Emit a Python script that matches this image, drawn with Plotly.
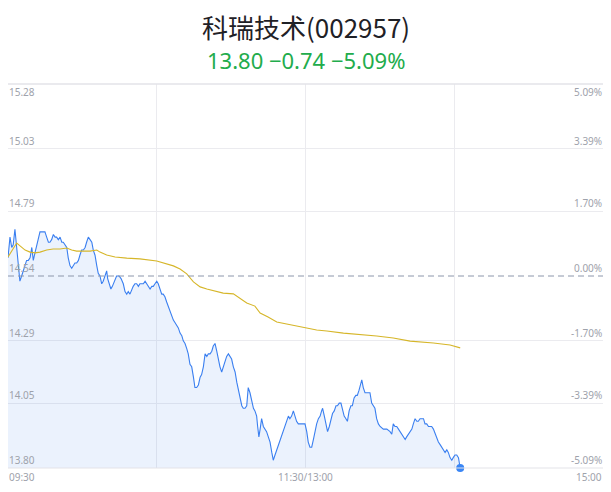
import plotly.graph_objects as go

title_text = "科瑞技术(002957)"
quote_text = "13.80 −0.74 −5.09%"

prev_close = 14.54
price_ticks = [15.28, 15.03, 14.79, 14.54, 14.29, 14.05, 13.80]
price_tick_labels = ["15.28", "15.03", "14.79", "14.54", "14.29", "14.05", "13.80"]
pct_tick_labels = ["5.09%", "3.39%", "1.70%", "0.00%", "-1.70%", "-3.39%", "-5.09%"]
time_tick_vals = [0, 120, 240]
time_tick_labels = ["09:30", "11:30/13:00", "15:00"]
grid_minutes = [60, 120, 180]

# minutes since open (lunch break removed) and prices
minutes = [0, 0.8, 1.5, 2.1, 2.8, 3.5, 4.2, 4.8, 5.5, 6.2, 6.9, 7.5, 8.2, 8.9, 9.6, 10.0, 10.2, 10.9,
           11.6, 12.2, 12.9, 13.6, 14.2, 14.9, 15.6, 16.3, 16.9, 17.6, 18.3, 19.0, 19.6, 20.3, 21.0,
           21.7, 22.3, 23.0, 23.7, 24.3, 25.0, 25.7, 26.3, 27.0, 27.7, 28.4, 29.0, 29.7, 30.4, 31.1,
           31.7, 32.4, 33.1, 33.8, 34.4, 35.1, 35.8, 36.4, 37.1, 37.8, 38.4, 39.1, 39.8, 40.2, 40.7,
           41.5, 42.1, 42.9, 43.8, 44.8, 45.6, 46.5, 47.2, 47.9, 48.5, 49.2, 49.9, 50.5, 51.2, 51.9,
           52.6, 53.2, 53.9, 54.6, 55.3, 56.0, 56.6, 57.3, 58.0, 58.6, 59.3, 60.0, 60.6, 61.3, 62.0,
           62.6, 63.3, 64.0, 64.7, 65.4, 66.0, 66.7, 67.4, 68.1, 68.7, 69.4, 70.1, 70.7, 71.4, 72.1,
           72.7, 73.4, 74.1, 74.8, 75.4, 76.1, 76.8, 77.5, 78.1, 78.8, 79.5, 80.2, 80.8, 81.5, 82.2,
           82.8, 83.5, 84.2, 84.8, 85.5, 86.2, 86.8, 87.5, 88.2, 88.9, 89.6, 90.2, 90.9, 91.6, 92.3,
           92.9, 93.6, 94.3, 94.9, 95.6, 96.3, 96.9, 97.6, 98.3, 99.0, 99.6, 100.3, 100.7, 101.2,
           101.7, 102.3, 103.0, 103.7, 104.3, 105.0, 105.7, 106.4, 107.0, 107.7, 108.4, 109.0, 109.7,
           110.4, 111.1, 111.7, 112.4, 113.1, 113.7, 114.4, 115.1, 115.8, 116.4, 117.1, 117.8, 118.5,
           119.1, 119.8, 120.5, 121.1, 121.8, 122.5, 123.2, 123.8, 124.5, 125.2, 125.9, 126.5, 126.9,
           127.6, 128.3, 128.9, 129.6, 130.3, 130.9, 131.6, 132.3, 132.9, 133.6, 134.3, 134.9, 135.6,
           136.3, 136.9, 137.6, 138.3, 138.9, 139.6, 140.3, 140.9, 141.6, 142.3, 142.7, 143.3, 144.0,
           144.7, 145.4, 146.0, 146.7, 147.4, 148.0, 148.7, 149.4, 150.1, 151.4, 152.8, 154.1, 154.8,
           155.4, 156.1, 156.8, 157.5, 158.1, 158.8, 159.5, 160.2, 160.8, 161.5, 162.2, 162.9, 163.5,
           164.2, 164.9, 165.5, 166.2, 166.9, 167.6, 168.2, 168.9, 169.6, 170.2, 170.9, 171.6, 172.3,
           172.9, 173.6, 174.3, 174.9, 175.6, 176.3, 177.0, 177.6, 178.3, 179.0, 179.6, 180.3, 181.0,
           181.7, 182.4]
prices = [14.61, 14.69, 14.65, 14.66, 14.72, 14.65, 14.57, 14.52, 14.54, 14.56, 14.58, 14.60, 14.60,
          14.61, 14.65, 14.61, 14.60, 14.63, 14.66, 14.69, 14.71, 14.71, 14.71, 14.71, 14.69, 14.67,
          14.67, 14.68, 14.70, 14.69, 14.69, 14.68, 14.69, 14.67, 14.67, 14.66, 14.65, 14.61, 14.58,
          14.57, 14.58, 14.59, 14.59, 14.60, 14.62, 14.64, 14.64, 14.65, 14.67, 14.69, 14.68, 14.67,
          14.64, 14.62, 14.58, 14.55, 14.54, 14.51, 14.52, 14.54, 14.56, 14.53, 14.51, 14.49, 14.50,
          14.52, 14.54, 14.54, 14.53, 14.51, 14.48, 14.47, 14.48, 14.47, 14.49, 14.50, 14.51, 14.51,
          14.50, 14.51, 14.51, 14.51, 14.52, 14.51, 14.50, 14.49, 14.50, 14.50, 14.51, 14.52, 14.51,
          14.49, 14.47, 14.47, 14.46, 14.44, 14.42, 14.40, 14.39, 14.37, 14.36, 14.35, 14.34, 14.32,
          14.31, 14.29, 14.28, 14.26, 14.24, 14.20, 14.19, 14.15, 14.11, 14.11, 14.12, 14.15, 14.16,
          14.19, 14.24, 14.23, 14.24, 14.24, 14.25, 14.27, 14.28, 14.25, 14.22, 14.19, 14.17, 14.19,
          14.21, 14.23, 14.24, 14.23, 14.22, 14.19, 14.17, 14.13, 14.10, 14.06, 14.04, 14.03, 14.03,
          14.04, 14.11, 14.09, 14.06, 14.03, 14.02, 14.00, 13.96, 13.92, 13.95, 13.99, 13.96, 13.95,
          13.94, 13.92, 13.90, 13.86, 13.83, 13.85, 13.87, 13.88, 13.90, 13.92, 13.94, 13.96, 13.98,
          14.00, 13.99, 14.00, 14.02, 14.00, 13.98, 13.97, 13.97, 13.97, 13.97, 13.97, 13.94, 13.90,
          13.88, 13.88, 13.91, 13.94, 13.97, 13.99, 14.00, 14.02, 14.03, 14.00, 13.97, 13.94, 13.96,
          13.99, 14.01, 14.02, 14.04, 14.04, 14.05, 14.05, 14.03, 14.00, 13.99, 13.98, 14.02, 14.04,
          14.04, 14.07, 14.08, 14.08, 14.10, 14.12, 14.14, 14.11, 14.09, 14.09, 14.09, 14.09, 14.05,
          14.04, 14.03, 13.99, 13.97, 13.96, 13.95, 13.95, 13.94, 13.93, 13.97, 13.96, 13.96, 13.95,
          13.94, 13.93, 13.92, 13.91, 13.92, 13.93, 13.94, 13.95, 13.97, 13.99, 13.98, 13.98, 13.99,
          13.99, 13.99, 13.97, 13.97, 13.96, 13.96, 13.96, 13.95, 13.93, 13.92, 13.90, 13.89, 13.88,
          13.87, 13.86, 13.87, 13.86, 13.84, 13.83, 13.84, 13.85, 13.85, 13.84, 13.80]

avg_minutes = [0, 3.5, 6.9, 8.9, 10.9, 12.9, 15.6, 18.2, 21.0, 23.7, 25.7, 27.7, 30.3, 33.1, 35.8,
               37.1, 39.8, 43.2, 47.9, 53.2, 60.0, 62.6, 66.7, 69.4, 72.1, 74.8, 77.5, 80.2, 84.2,
               86.8, 90.9, 93.6, 96.3, 99.6, 101.7, 104.9, 108.4, 112.4, 116.4, 119.8, 124.5, 128.6,
               135.3, 148.7, 155.4, 162.2, 171.6, 178.3, 182.4]
avg_prices = [14.613, 14.667, 14.640, 14.632, 14.629, 14.632, 14.640, 14.644, 14.644, 14.648, 14.640,
              14.636, 14.636, 14.636, 14.640, 14.632, 14.621, 14.613, 14.609, 14.606, 14.598, 14.590,
              14.579, 14.567, 14.548, 14.517, 14.498, 14.490, 14.482, 14.474, 14.471, 14.455, 14.436,
              14.424, 14.397, 14.382, 14.363, 14.355, 14.347, 14.343, 14.332, 14.328, 14.320, 14.309,
              14.301, 14.289, 14.282, 14.274, 14.263]

blue = "#3a7ff0"
gold = "#d6b629"
label_color = "#9ea2ab"
grid_color = "#ebebef"
label_font = dict(family="Noto Sans, Arial, sans-serif", size=10, color=label_color)

# the page body has an 8px margin, so the figure is placed at (8, 8)
FIG_W, FIG_H = 595, 484
M_T, M_B = 76, 24

fig = go.Figure()
fig.add_trace(go.Scatter(x=minutes, y=prices, mode="lines", line=dict(color=blue, width=1.1),
                         fill="tozeroy", fillcolor="rgba(58,127,240,0.10)", hoverinfo="skip"))
fig.add_trace(go.Scatter(x=avg_minutes, y=avg_prices, mode="lines",
                         line=dict(color=gold, width=1.1), hoverinfo="skip"))
fig.add_trace(go.Scatter(x=[minutes[-1]], y=[prices[-1]], mode="markers",
                         marker=dict(color="#3a86f5", size=8, line=dict(width=0)),
                         cliponaxis=False, hoverinfo="skip"))

fig.add_shape(type="line", xref="paper", yref="y", x0=0, x1=1, y0=prev_close, y1=prev_close,
              line=dict(color="#8c96ab", width=1, dash="6px,4px"))
fig.add_shape(type="line", xref="paper", yref="paper", x0=0, x1=1, y0=1, y1=1,
              line=dict(color="#e3e3e8", width=1.5))
fig.add_shape(type="line", xref="paper", yref="paper", x0=0, x1=1, y0=0, y1=0,
              line=dict(color="#e3e3e8", width=1))

annotations = []
for i, (v, lt, rt) in enumerate(zip(price_ticks, price_tick_labels, pct_tick_labels)):
    ya = "top" if i == 0 else "bottom"
    annotations.append(dict(x=0, xref="paper", y=v, yref="y", text=lt, showarrow=False,
                            xanchor="left", yanchor=ya, font=label_font, borderpad=0))
    annotations.append(dict(x=1, xref="paper", y=v, yref="y", text=rt, showarrow=False,
                            xanchor="right", yanchor=ya, font=label_font, borderpad=0))
for v, t, xa in zip(time_tick_vals, time_tick_labels, ["left", "center", "right"]):
    annotations.append(dict(x=v, xref="x", y=0, yref="paper", text=t, showarrow=False,
                            xanchor=xa, yanchor="top", font=label_font, borderpad=0, yshift=-1))

plot_h = FIG_H - M_T - M_B
title_px, quote_px = 18.5, 52  # pixel centres inside the figure
annotations.append(dict(x=0.5, xref="paper", y=1 + (M_T - title_px) / plot_h, yref="paper",
                        yanchor="middle", text=title_text, showarrow=False, borderpad=0,
                        font=dict(family="Noto Sans CJK SC, sans-serif", size=26,
                                  color="#1f2126")))
annotations.append(dict(x=0.5, xref="paper", y=1 + (M_T - quote_px) / plot_h, yref="paper",
                        yanchor="middle", text=quote_text, showarrow=False, borderpad=0,
                        font=dict(family="Noto Sans, sans-serif", size=22, color="#22ac4c")))

fig.update_layout(
    width=FIG_W, height=FIG_H,
    margin=dict(l=0, r=0, t=M_T, b=M_B),
    paper_bgcolor="white", plot_bgcolor="white",
    showlegend=False,
    annotations=annotations,
    xaxis=dict(range=[0, 240], tickvals=grid_minutes, showticklabels=False, showgrid=True,
               gridcolor=grid_color, gridwidth=1, zeroline=False, showline=False, ticks="",
               fixedrange=True),
    yaxis=dict(range=[price_ticks[-1], price_ticks[0]],
               tickvals=[v for v in price_ticks if v != prev_close], showticklabels=False,
               showgrid=True, gridcolor=grid_color, gridwidth=1, zeroline=False, showline=False,
               ticks="", fixedrange=True),
)

fig.write_html("out.html")
